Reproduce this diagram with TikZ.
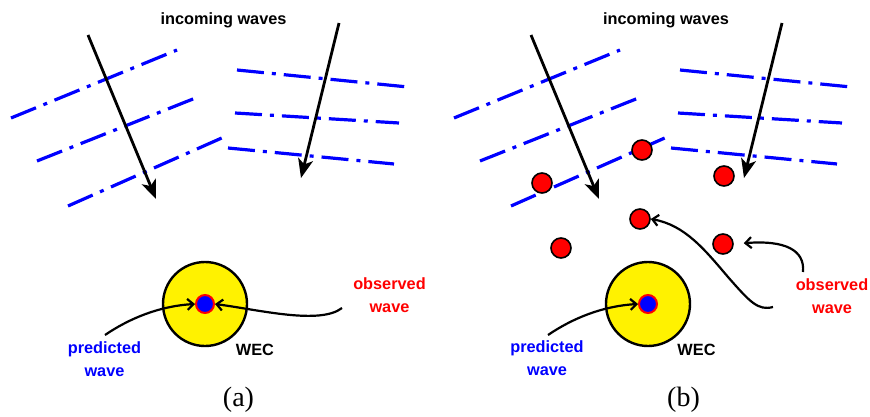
\documentclass[tikz,border=0pt]{standalone}
\usepackage{fontspec}
\setmainfont{Liberation Serif}
\setsansfont{Liberation Sans}
\usetikzlibrary{arrows.meta, positioning}

\begin{document}
\begin{tikzpicture}[x=1pt, y=-1pt,
  wave/.style ={blue, line width=3.2pt, dash pattern=on 27pt off 8pt on 4pt off 8pt},
  inc/.style  ={-{Stealth[length=19pt, width=15pt, inset=5pt]}, line width=2.8pt},
  wec/.style  ={draw, circle, fill=yellow, line width=2.4pt, minimum size=84pt, inner sep=0pt},
  core/.style ={draw=red, circle, fill=blue, line width=2pt, minimum size=18pt, inner sep=0pt},
  buoy/.style ={draw, circle, fill=red, line width=1.6pt, minimum size=20pt, inner sep=0pt},
  arr/.style  ={-{Straight Barb[length=6pt, width=11pt]}, line width=2.2pt},
  lbl/.style  ={font=\sffamily\bfseries\fontsize{16.3}{23}\selectfont, align=center, inner sep=0pt},
  panel/.style={font=\fontsize{28}{30}\selectfont, anchor=base, inner sep=0pt},
]
\useasboundingbox (0,0) rectangle (870,417);

%% ---- (a): incoming waves ----
\node[lbl, anchor=base] (INa) at (223.5,25) {incoming waves};
\draw[wave] (11,118) -- (177,50);
\draw[wave] (37,161) -- (198,97);
\draw[wave] (68,206) -- (224,137);
\draw[wave] (237,70) -- (408,87);
\draw[wave] (235,113) -- (399,123);
\draw[wave] (228,148) -- (394,164);
\draw[inc] (88,35) -- (156,199);
\draw[inc] (339,23) -- (301,178);

%% ---- (a): WEC ----
\node[wec]  (Wa) at (205,304) {};
\node[core] (Ca) at (Wa) {};
\node[lbl] (WECa) at (255,349.5) {WEC};
\node[lbl, text=blue] (PRa) at (104.5,359) {predicted\\wave};
\node[lbl, text=red]  (OBa) at (389.5,295.5) {observed\\wave};
\coordinate (pa) at (105,335);
\coordinate (oa) at (342,308);
\draw[arr] (pa) .. controls (130,318) and (160,306) .. (Ca.west);
\draw[arr] (oa) .. controls (320,325) and (260,310) .. (Ca.east);
\node[panel] (Ka) at (238.5,406) {(a)};

%% ---- (b): incoming waves ----
\node[lbl, anchor=base] (INb) at (666,25) {incoming waves};
\draw[wave] (454,118) -- (620,50);
\draw[wave] (480,161) -- (641,97);
\draw[wave] (511,206) -- (667,137);
\draw[wave] (680,70) -- (851,87);
\draw[wave] (678,113) -- (842,123);
\draw[wave] (671,148) -- (837,164);
\draw[inc] (531,35) -- (599,199);
\draw[inc] (782,23) -- (744,178);

%% ---- (b): scattering bodies ----
\node[buoy] (R1) at (642,150) {};
\node[buoy] (R2) at (542,183) {};
\node[buoy] (R3) at (724,176) {};
\node[buoy] (R4) at (640,219) {};
\node[buoy] (R5) at (561,248) {};
\node[buoy] (R6) at (723,244) {};

%% ---- (b): WEC ----
\node[wec]  (Wb) at (648,304) {};
\node[core] (Cb) at (Wb) {};
\node[lbl] (WECb) at (696.5,349.5) {WEC};
\node[lbl, text=blue] (PRb) at (547,358.5) {predicted\\wave};
\node[lbl, text=red]  (OBb) at (832,296) {observed\\wave};
\coordinate (pb) at (548,335);
\coordinate (ob1) at (773,307);
\coordinate (ob2) at (803,272);
\draw[arr] (pb) .. controls (573,318) and (603,306) .. (Cb.west);
\draw[arr] (ob1) .. controls (758,311) and (750,302) .. (728,277)
                 .. controls (705,250) and (685,225) .. (R4.east);
\draw[arr, shorten >=10pt] (ob2) .. controls (805,250) and (785,240) .. (R6.east);
\node[panel] (Kb) at (683.5,406) {(b)};

\end{tikzpicture}
\end{document}
